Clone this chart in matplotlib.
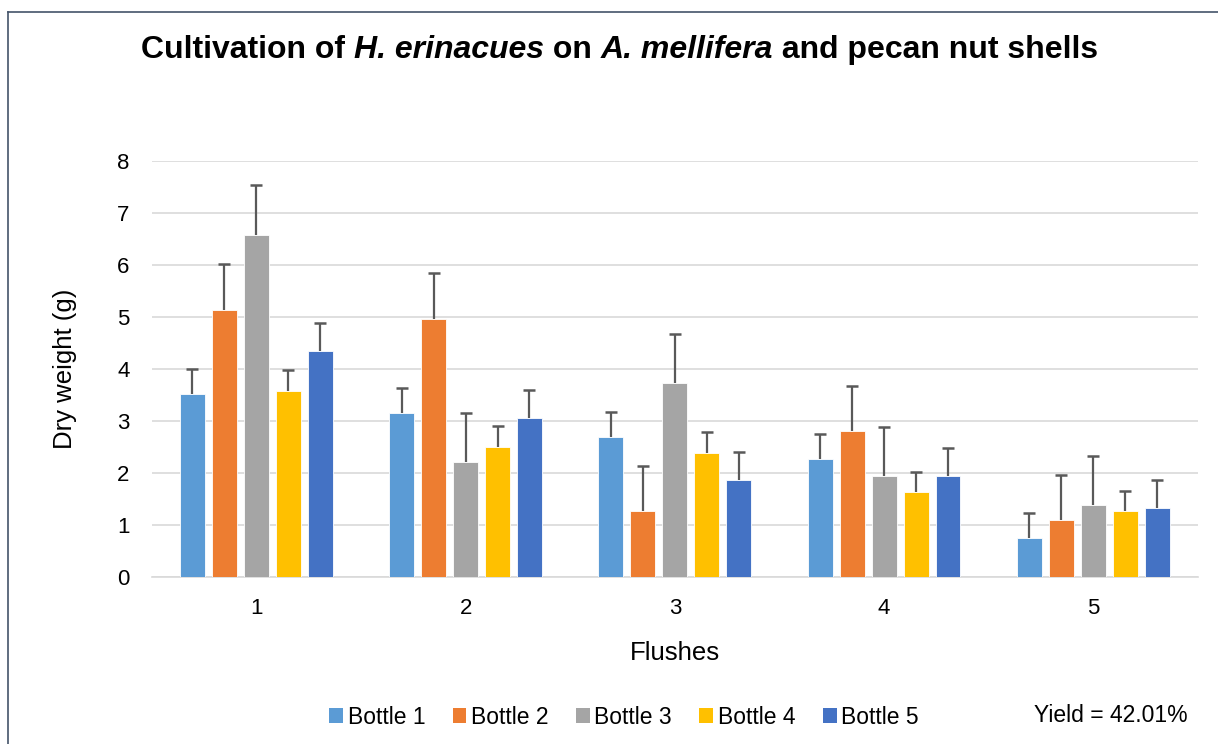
import matplotlib
matplotlib.use("Agg")
import matplotlib.pyplot as plt
from matplotlib.lines import Line2D
from matplotlib.patches import Patch
import numpy as np

plt.rcParams['font.family'] = ['Liberation Sans', 'DejaVu Sans']

flushes = ["1", "2", "3", "4", "5"]
series_names = ["Bottle 1", "Bottle 2", "Bottle 3", "Bottle 4", "Bottle 5"]
colors = ["#5B9BD5", "#ED7D31", "#A5A5A5", "#FFC000", "#4472C4"]

bottle1 = [3.52, 3.15, 2.69, 2.26, 0.75]
bottle2 = [5.13, 4.96, 1.26, 2.81, 1.09]
bottle3 = [6.58, 2.21, 3.73, 1.95, 1.39]
bottle4 = [3.57, 2.50, 2.38, 1.63, 1.26]
bottle5 = [4.35, 3.05, 1.86, 1.95, 1.32]

err1 = [0.48, 0.49, 0.48, 0.49, 0.48]
err2 = [0.88, 0.89, 0.87, 0.87, 0.88]
err3 = [0.95, 0.94, 0.94, 0.94, 0.94]
err4 = [0.41, 0.40, 0.41, 0.39, 0.40]
err5 = [0.54, 0.54, 0.54, 0.54, 0.55]

values = [bottle1, bottle2, bottle3, bottle4, bottle5]
errors = [err1, err2, err3, err4, err5]

title_parts = [("Cultivation of ", "normal"), ("H. erinacues", "italic"), (" on ", "normal"),
               ("A. mellifera", "italic"), (" and pecan nut shells", "normal")]

fig = plt.figure(figsize=(12.18, 7.44), dpi=100)
ax = fig.add_axes([151.7/1218, 1-577/744, (1198-151.7)/1218, (577-161)/744])

x = np.arange(1, len(flushes) + 1)
pitch = 32/209.6
width = 25/209.6
for i, (vals, errs) in enumerate(zip(values, errors)):
    pos = x + (i - 2) * pitch
    vals = np.array(vals)
    tops = vals + np.array(errs)
    ax.bar(pos, vals, width=width, color=colors[i], edgecolor='white', linewidth=0.6,
           zorder=3, label=series_names[i])
    ax.vlines(pos, vals, tops, color='#595959', linewidth=1.6, zorder=4)
    ax.plot(pos, tops, linestyle='none', marker='_', markersize=8.5, markeredgewidth=1.8,
            color='#595959', zorder=4)

ax.set_xlim(0.5, 5.5)
ax.set_ylim(0, 8)
ax.set_yticks(range(0, 9))
ax.set_xticks(x)
ax.set_xticklabels(flushes)
ax.grid(axis='y', color='#D9D9D9', linewidth=1.2, zorder=0)
ax.set_axisbelow(True)
for s in ['top', 'right', 'left']:
    ax.spines[s].set_visible(False)
ax.spines['bottom'].set_color('#D9D9D9')
ax.spines['bottom'].set_linewidth(1.2)
ax.tick_params(axis='both', length=0, labelsize=16, colors='black')
ax.tick_params(axis='y', pad=16)
ax.tick_params(axis='x', pad=15)

ax.set_ylabel("Dry weight (g)", fontsize=18.5, labelpad=29)
ax.set_xlabel("Flushes", fontsize=18.5, labelpad=16)

# title built from pieces (regular bold + bold italic)
renderer = fig.canvas.get_renderer()
title_y = 1 - 50/744
texts = []
xcur = 0.0
for s, style in title_parts:
    t = fig.text(xcur, title_y, s, ha='left', va='center', fontsize=23,
                 fontweight='bold', fontstyle=style)
    bb = t.get_window_extent(renderer)
    texts.append(t)
    xcur += bb.width / fig.bbox.width
total = xcur
start = 620/1218 - total/2
xcur = start
for t in texts:
    bb = t.get_window_extent(renderer)
    t.set_x(xcur)
    xcur += bb.width / fig.bbox.width

handles = [Patch(facecolor=c, edgecolor='none') for c in colors]
fig.legend(handles, series_names, loc='center', bbox_to_anchor=(624/1218, 1-717/744),
           ncol=5, frameon=False, fontsize=16.5, handlelength=0.6, handleheight=0.6,
           handletextpad=0.2, columnspacing=1.2)

fig.text(1188/1218, 1-715/744, "Yield = 42.01%", ha='right', va='center', fontsize=16.5)

fig.add_artist(Line2D([8/1218, 8/1218], [0, 1-12/744], color='#44546A', linewidth=1.2))
fig.add_artist(Line2D([8/1218, 1], [1-12/744, 1-12/744], color='#44546A', linewidth=1.2))

fig.savefig("out.png", dpi=100)
